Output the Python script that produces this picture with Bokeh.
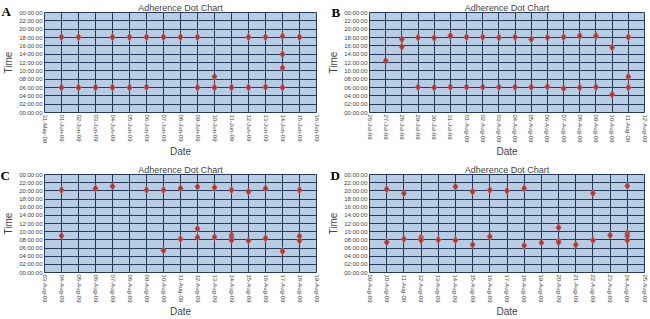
import pandas as pd
from bokeh.plotting import figure
from bokeh.models import FixedTicker, GridBox, Column
from bokeh.core.properties import value
from bokeh.embed import file_html
from bokeh.resources import INLINE

# ---------------- data ----------------
title_text = "Adherence Dot Chart"
y_tick_hours = [0, 2, 4, 6, 8, 10, 12, 14, 16, 18, 20, 22, 24]
y_tick_labels = ["00:00:00", "02:00:00", "04:00:00", "06:00:00", "08:00:00", "10:00:00",
                 "12:00:00", "14:00:00", "16:00:00", "18:00:00", "20:00:00", "22:00:00", "00:00:00"]

# Panel A
a_ticks = ["31-May-09", "01-Jun-09", "02-Jun-09", "03-Jun-09", "04-Jun-09", "05-Jun-09",
           "06-Jun-09", "07-Jun-09", "08-Jun-09", "09-Jun-09", "10-Jun-09", "11-Jun-09",
           "12-Jun-09", "13-Jun-09", "14-Jun-09", "15-Jun-09", "16-Jun-09"]
a_dates = ["01-Jun-09", "01-Jun-09", "02-Jun-09", "02-Jun-09", "03-Jun-09",
           "04-Jun-09", "04-Jun-09", "05-Jun-09", "05-Jun-09", "06-Jun-09", "06-Jun-09",
           "07-Jun-09", "08-Jun-09", "09-Jun-09", "09-Jun-09", "10-Jun-09", "10-Jun-09",
           "11-Jun-09", "12-Jun-09", "12-Jun-09", "13-Jun-09", "13-Jun-09",
           "14-Jun-09", "14-Jun-09", "14-Jun-09", "14-Jun-09", "15-Jun-09"]
a_hours = [18.1, 6.0, 18.1, 6.0, 6.0,
           18.1, 6.0, 18.1, 6.0, 18.1, 6.1,
           18.1, 18.1, 18.1, 6.0, 8.6, 6.0,
           6.0, 18.1, 6.0, 18.1, 6.1,
           18.3, 14.0, 10.7, 6.0, 18.1]

# Panel B
b_ticks = ["26-Jul-09", "27-Jul-09", "28-Jul-09", "29-Jul-09", "30-Jul-09", "31-Jul-09",
           "01-Aug-09", "02-Aug-09", "03-Aug-09", "04-Aug-09", "05-Aug-09", "06-Aug-09",
           "07-Aug-09", "08-Aug-09", "09-Aug-09", "10-Aug-09", "11-Aug-09", "12-Aug-09"]
b_dates = ["27-Jul-09", "28-Jul-09", "28-Jul-09", "29-Jul-09", "29-Jul-09",
           "30-Jul-09", "30-Jul-09", "31-Jul-09", "31-Jul-09", "01-Aug-09", "01-Aug-09",
           "02-Aug-09", "02-Aug-09", "03-Aug-09", "03-Aug-09", "04-Aug-09", "04-Aug-09",
           "05-Aug-09", "05-Aug-09", "06-Aug-09", "06-Aug-09", "07-Aug-09", "07-Aug-09",
           "08-Aug-09", "08-Aug-09", "09-Aug-09", "09-Aug-09", "10-Aug-09", "10-Aug-09",
           "11-Aug-09", "11-Aug-09", "11-Aug-09"]
b_hours = [12.4, 17.6, 15.8, 18.0, 6.1,
           17.9, 6.0, 18.4, 6.1, 18.1, 6.1,
           18.1, 6.1, 18.0, 6.1, 18.1, 6.1,
           17.6, 6.1, 18.0, 6.2, 18.1, 5.8,
           18.4, 6.0, 18.4, 6.1, 15.6, 4.3,
           18.1, 8.6, 6.0]

# Panel C
c_ticks = ["03-Aug-09", "04-Aug-09", "05-Aug-09", "06-Aug-09", "07-Aug-09", "08-Aug-09",
           "09-Aug-09", "10-Aug-09", "11-Aug-09", "12-Aug-09", "13-Aug-09", "14-Aug-09",
           "15-Aug-09", "16-Aug-09", "17-Aug-09", "18-Aug-09", "19-Aug-09"]
c_dates = ["04-Aug-09", "04-Aug-09", "06-Aug-09", "07-Aug-09", "09-Aug-09",
           "10-Aug-09", "10-Aug-09", "11-Aug-09", "11-Aug-09",
           "12-Aug-09", "12-Aug-09", "12-Aug-09", "13-Aug-09", "13-Aug-09",
           "14-Aug-09", "14-Aug-09", "14-Aug-09", "14-Aug-09",
           "15-Aug-09", "15-Aug-09", "16-Aug-09", "16-Aug-09", "17-Aug-09",
           "18-Aug-09", "18-Aug-09", "18-Aug-09"]
c_hours = [20.2, 9.0, 20.6, 21.1, 20.2,
           20.2, 5.4, 20.6, 8.2,
           21.0, 10.7, 8.6, 20.8, 8.7,
           20.2, 9.2, 8.6, 7.9,
           19.8, 7.8, 20.6, 8.4, 5.2,
           20.2, 8.9, 7.8]

# Panel D
d_ticks = ["09-Aug-09", "10-Aug-09", "11-Aug-09", "12-Aug-09", "13-Aug-09", "14-Aug-09",
           "15-Aug-09", "16-Aug-09", "17-Aug-09", "18-Aug-09", "19-Aug-09", "20-Aug-09",
           "21-Aug-09", "22-Aug-09", "23-Aug-09", "24-Aug-09", "25-Aug-09"]
d_dates = ["10-Aug-09", "10-Aug-09", "11-Aug-09", "11-Aug-09",
           "12-Aug-09", "12-Aug-09", "12-Aug-09", "13-Aug-09",
           "14-Aug-09", "14-Aug-09", "15-Aug-09", "15-Aug-09",
           "16-Aug-09", "16-Aug-09", "17-Aug-09", "18-Aug-09", "18-Aug-09",
           "19-Aug-09", "20-Aug-09", "20-Aug-09", "20-Aug-09", "21-Aug-09",
           "22-Aug-09", "22-Aug-09", "23-Aug-09",
           "24-Aug-09", "24-Aug-09", "24-Aug-09", "24-Aug-09"]
d_hours = [20.4, 7.4, 19.4, 8.2,
           8.6, 8.2, 7.9, 8.0,
           21.0, 7.9, 19.8, 6.8,
           20.2, 8.8, 20.0, 20.6, 6.6,
           7.3, 11.0, 7.8, 7.4, 6.8,
           19.4, 7.9, 9.1,
           21.2, 9.6, 8.9, 7.9]

panel_letters = ["A", "B", "C", "D"]

# ---------------- styling ----------------
BG = "#B8CCE4"
GRID = "#26395A"
MARK = "#A3383A"
MARK_EDGE = "#C06464"
SANS = "Liberation Sans"
PAGE_W, PAGE_H = 650, 319


def make_panel(ticks, dates, hours, height, left, right, top, frame_w, frame_h):
    t0 = pd.to_datetime(ticks[0], format="%d-%b-%y")
    tick_days = [(pd.to_datetime(t, format="%d-%b-%y") - t0).days for t in ticks]
    xs = [(pd.to_datetime(d, format="%d-%b-%y") - t0).days for d in dates]
    bottom = height - top - frame_h
    p = figure(width=left + frame_w + right, height=height,
               output_backend="svg", toolbar_location=None,
               x_range=(tick_days[0], tick_days[-1]), y_range=(0, 24),
               min_border_left=left, min_border_right=right,
               min_border_top=top, min_border_bottom=bottom,
               background_fill_color=BG, border_fill_color="white",
               outline_line_color=GRID, outline_line_width=1)
    p.title.text = title_text
    p.title.align = "center"
    p.title.text_font = SANS
    p.title.text_font_size = "9px"
    p.title.text_font_style = "normal"
    p.title.standoff = 0
    p.title.offset = 0

    p.xaxis.ticker = FixedTicker(ticks=tick_days)
    p.xaxis.major_label_overrides = {d: t for d, t in zip(tick_days, ticks)}
    p.xaxis.major_label_orientation = "vertical"
    p.xaxis.axis_label = "Date"
    p.yaxis.ticker = FixedTicker(ticks=y_tick_hours)
    p.yaxis.major_label_overrides = {h: t for h, t in zip(y_tick_hours, y_tick_labels)}
    p.yaxis.axis_label = "Time"
    for ax in (p.xaxis, p.yaxis):
        ax.axis_label_text_font = SANS
        ax.axis_label_text_font_size = "10px"
        ax.axis_label_text_font_style = "normal"
        ax.axis_label_standoff = 2
        ax.major_label_text_font = SANS
        ax.major_label_text_font_size = "6px"
        ax.major_label_standoff = 2
        ax.major_tick_in = 0
        ax.major_tick_out = 0
        ax.minor_tick_in = 0
        ax.minor_tick_out = 0
        ax.axis_line_color = None
    p.xaxis.axis_label_standoff = 0
    p.xgrid.ticker = FixedTicker(ticks=tick_days)
    p.ygrid.ticker = FixedTicker(ticks=y_tick_hours)
    p.grid.grid_line_color = GRID
    p.grid.grid_line_alpha = 1
    p.grid.grid_line_width = 1

    p.scatter(xs, hours, marker="diamond", size=7.5, fill_color=MARK,
              line_color=MARK_EDGE, line_width=1)
    return p


pa = make_panel(a_ticks, a_dates, a_hours, 160, 36, 9, 11, 280, 101)
pb = make_panel(b_ticks, b_dates, b_hours, 160, 40, 6, 11, 279, 101)
pc = make_panel(c_ticks, c_dates, c_hours, 159, 36, 9, 14, 280, 100)
pd_ = make_panel(d_ticks, d_dates, d_hours, 159, 42, 3, 14, 280, 100)

# transparent overlay carrying the panel letters (page pixel coordinates, y downwards)
ov = figure(width=PAGE_W, height=PAGE_H, output_backend="svg", toolbar_location=None,
            x_range=(0, PAGE_W), y_range=(PAGE_H, 0),
            min_border=0, min_border_left=0, min_border_right=0,
            min_border_top=0, min_border_bottom=0,
            x_axis_type=None, y_axis_type=None,
            background_fill_alpha=0, border_fill_alpha=0, outline_line_color=None)
ov.title.visible = False
ov.grid.visible = False
ov.text(x=[1, 331, 0, 330], y=[3, 4, 167, 167], text=panel_letters,
        text_font=value("Liberation Serif"), text_font_style="bold",
        text_font_size="13px", text_color="black",
        text_align="left", text_baseline="top")
ov_box = Column(children=[ov], width=PAGE_W, height=PAGE_H)

layout = GridBox(children=[(pa, 0, 0), (pb, 0, 1), (pc, 1, 0), (pd_, 1, 1),
                           (ov_box, 0, 0, 2, 2)])
open("out.html", "w").write(file_html(layout, INLINE))
